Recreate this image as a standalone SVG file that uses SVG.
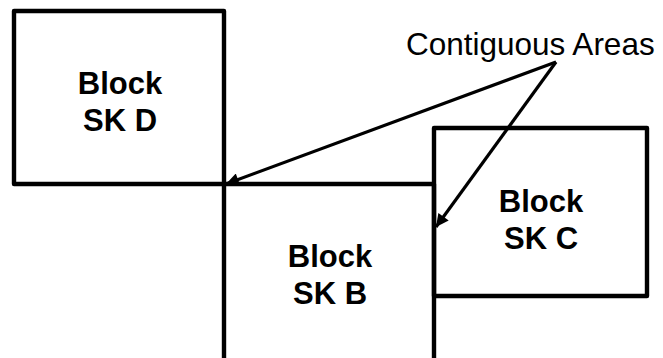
<svg xmlns="http://www.w3.org/2000/svg" width="663" height="358" viewBox="0 0 663 358">
<style>
.box{fill:none;stroke:#000;stroke-width:4.4;stroke-linejoin:round}
.lbl{font-family:"Liberation Sans",Arial,sans-serif;font-weight:bold;font-size:31px;text-anchor:middle;fill:#000}
.note{font-family:"Liberation Sans",Arial,sans-serif;font-size:31.5px;fill:#000}
.conn{stroke:#000;stroke-width:3.2;fill:none}
</style>
<defs>
<marker id="ah" viewBox="0 0 10 10" refX="10" refY="5" markerWidth="5" markerHeight="4" markerUnits="strokeWidth" orient="auto">
<path d="M0,0 L10,5 L0,10 z" fill="#000"/>
</marker>
</defs>
<rect width="663" height="358" fill="#fff"/>
<g id="block-d">
<rect class="box" x="14" y="11" width="210" height="173"/>
<text class="lbl" x="120" y="94">Block</text>
<text class="lbl" x="120" y="131">SK D</text>
</g>
<g id="block-b">
<rect class="box" x="224" y="184" width="210" height="190"/>
<text class="lbl" x="330" y="267">Block</text>
<text class="lbl" x="330" y="304">SK B</text>
</g>
<g id="block-c">
<rect class="box" x="434" y="128" width="213" height="168"/>
<text class="lbl" x="541" y="212">Block</text>
<text class="lbl" x="541" y="249">SK C</text>
</g>
<g id="label">
<text class="note" x="406" y="55">Contiguous Areas</text>
</g>
<g id="connectors">
<line class="conn" x1="556" y1="62" x2="226" y2="184" marker-end="url(#ah)"/>
<line class="conn" x1="556" y1="62" x2="436" y2="227" marker-end="url(#ah)"/>
</g>
</svg>
